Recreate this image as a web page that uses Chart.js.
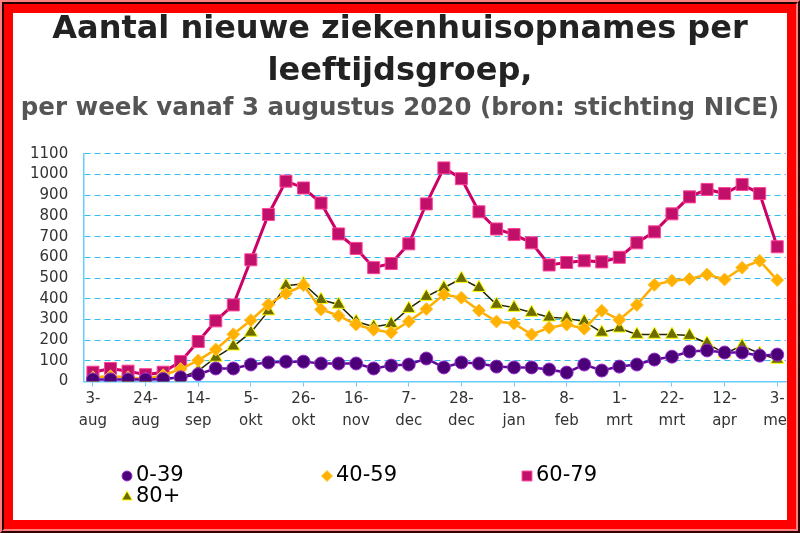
<!DOCTYPE html>
<html>
<head>
    <title>Ziekenhuisopnames per leeftijdsgroep</title>
    <script src="https://cdn.jsdelivr.net/npm/chart.js"></script>
    <style>
        body { margin: 0; background: #fff; }
        #wrap { position: relative; width: 800px; height: 533px; }
        #frame1, #frame2, #frame3 { box-sizing: border-box; }
        #frame1 { position: absolute; left: 0; top: 0; width: 800px; height: 533px; pointer-events: none;
                  border: 2px solid; border-color: #ff8080 #300000 #300000 #ff8080; }
        #frame2 { width: 100%; height: 100%; border: 2px solid; border-color: #200000 #ff8080 #ff8080 #200000; }
        #frame3 { width: 100%; height: 100%; border: 9px solid #ff0000; }
    </style>
</head>
<body>
<div id="wrap">
    <canvas id="lineChart" width="800" height="533"></canvas>
    <div id="frame1"><div id="frame2"><div id="frame3"></div></div></div>
</div>
<script>
    // weken vanaf 3 augustus 2020
    const weeks = ['3-aug', '10-aug', '17-aug', '24-aug', '31-aug', '7-sep', '14-sep', '21-sep', '28-sep', '5-okt',
        '12-okt', '19-okt', '26-okt', '2-nov', '9-nov', '16-nov', '23-nov', '30-nov', '7-dec', '14-dec',
        '21-dec', '28-dec', '4-jan', '11-jan', '18-jan', '25-jan', '1-feb', '8-feb', '15-feb', '22-feb',
        '1-mrt', '8-mrt', '15-mrt', '22-mrt', '29-mrt', '5-apr', '12-apr', '19-apr', '26-apr', '3-mei'];

    const age0_39 = [10, 10, 10, 10, 12, 20, 35, 63, 63, 82, 92, 96, 96, 87, 87, 87, 63, 77, 82, 111,
        68, 92, 87, 72, 68, 68, 58, 43, 82, 53, 72, 82, 106, 120, 145, 150, 140, 140, 125, 130];
    const age40_59 = [20, 25, 20, 12, 30, 60, 102, 155, 228, 296, 372, 425, 465, 348, 318, 275, 250, 237, 290, 350,
        420, 405, 343, 290, 280, 227, 260, 275, 255, 342, 298, 370, 467, 487, 495, 517, 493, 550, 583, 490];
    const age60_79 = [45, 63, 50, 33, 45, 97, 193, 293, 370, 588, 807, 968, 935, 862, 713, 643, 550, 570, 665, 858,
        1032, 980, 820, 737, 710, 670, 563, 575, 583, 578, 600, 670, 723, 810, 892, 928, 908, 952, 908, 651];
    const age80 = [20, 25, 15, 10, 10, 20, 52, 116, 170, 237, 340, 463, 472, 395, 372, 290, 265, 278, 352, 410,
        453, 497, 453, 372, 357, 333, 310, 305, 290, 237, 257, 227, 227, 227, 222, 185, 135, 172, 135, 106];

    const yMin = 0, yMax = 1100, yStep = 100;

    const FONT = "'DejaVu Sans', Verdana, sans-serif";

    // legenda op vaste kolommen, zoals in het origineel
    const fixedLegend = {
        id: 'fixedLegend',
        afterDraw(chart) {
            const ctx = chart.ctx;
            const spots = [[127, 476], [327, 476], [527, 476], [127, 497]];
            chart.data.datasets.forEach((ds, i) => {
                const [x, y] = spots[i];
                ctx.save();
                ctx.fillStyle = ds.pointBackgroundColor;
                ctx.strokeStyle = ds.pointBorderColor;
                ctx.lineWidth = 1;
                Chart.helpers.drawPoint(ctx, {pointStyle: ds.pointStyle, radius: ds.legendRadius, rotation: 0, borderWidth: 1}, x, y);
                ctx.fillStyle = '#000';
                ctx.font = '21px ' + FONT;
                ctx.textBaseline = 'middle';
                ctx.textAlign = 'left';
                ctx.fillText(ds.label, x + 9, y);
                ctx.restore();
            });
        }
    };

    const ctx = document.getElementById('lineChart').getContext('2d');
    const lineChart = new Chart(ctx, {
        type: 'line',
        data: {
            labels: weeks,
            datasets: [{
                label: '0-39',
                data: age0_39,
                borderColor: '#5e0a96',
                borderWidth: 2.5,
                pointStyle: 'circle',
                pointRadius: 6.5,
                pointBackgroundColor: '#4b0078',
                pointBorderColor: '#9a30d0',
                pointBorderWidth: 1,
                legendRadius: 5
            }, {
                label: '40-59',
                data: age40_59,
                borderColor: '#ffae00',
                borderWidth: 2.5,
                pointStyle: 'rectRot',
                pointRadius: 6.5,
                pointBackgroundColor: '#ffb000',
                pointBorderColor: '#ffc640',
                pointBorderWidth: 1,
                legendRadius: 5.5
            }, {
                label: '60-79',
                data: age60_79,
                borderColor: '#cc0066',
                borderWidth: 3,
                pointStyle: 'rect',
                pointRadius: 8.5,
                pointBackgroundColor: '#c0106a',
                pointBorderColor: '#ff4499',
                pointBorderWidth: 1,
                legendRadius: 7
            }, {
                label: '80+',
                data: age80,
                borderColor: '#262600',
                borderWidth: 1.5,
                pointStyle: 'triangle',
                pointRadius: 7.5,
                pointBackgroundColor: '#6b6b00',
                pointBorderColor: '#ffff00',
                pointBorderWidth: 1,
                legendRadius: 6
            }]
        },
        options: {
            responsive: false,
            animation: false,
            layout: { padding: { left: 14, right: 14, top: 0, bottom: 99 } },
            plugins: {
                legend: { display: false },
                tooltip: { enabled: false },
                title: {
                    display: true,
                    text: ['Aantal nieuwe ziekenhuisopnames per', 'leeftijdsgroep,'],
                    color: '#222',
                    font: { family: FONT, size: 32, weight: 'bold', lineHeight: 1.3 },
                    padding: { top: 9, bottom: 0 }
                },
                subtitle: {
                    display: true,
                    text: 'per week vanaf 3 augustus 2020 (bron: stichting NICE)',
                    color: '#555',
                    font: { family: FONT, size: 24.5, weight: 'bold', lineHeight: 1.25 },
                    padding: { top: 1, bottom: 30 }
                }
            },
            scales: {
                x: {
                    offset: true,
                    grid: {
                        drawOnChartArea: false,
                        offset: false,
                        tickLength: 5,
                        tickColor: c => c.index % 3 === 0 ? '#66ccff' : 'rgba(0,0,0,0)'
                    },
                    border: { color: '#66ccff', width: 1.5 },
                    ticks: {
                        autoSkip: false,
                        maxRotation: 0,
                        minRotation: 0,
                        padding: 2,
                        color: '#333',
                        font: { family: FONT, size: 15, lineHeight: 1.45 },
                        callback: function (v, i) {
                            if (i % 3 !== 0) return '';
                            const parts = weeks[i].split('-');
                            return [parts[0] + '-', parts[1]];
                        }
                    }
                },
                y: {
                    min: yMin,
                    max: yMax,
                    grid: { color: '#33bbee', drawTicks: false },
                    border: { color: '#66ccff', width: 1.5, dash: [6, 4] },
                    ticks: {
                        stepSize: yStep,
                        autoSkip: false,
                        padding: 16,
                        color: '#333',
                        font: { family: FONT, size: 15 },
                        callback: v => String(v)
                    }
                }
            }
        },
        plugins: [fixedLegend]
    });
</script>
</body>
</html>
